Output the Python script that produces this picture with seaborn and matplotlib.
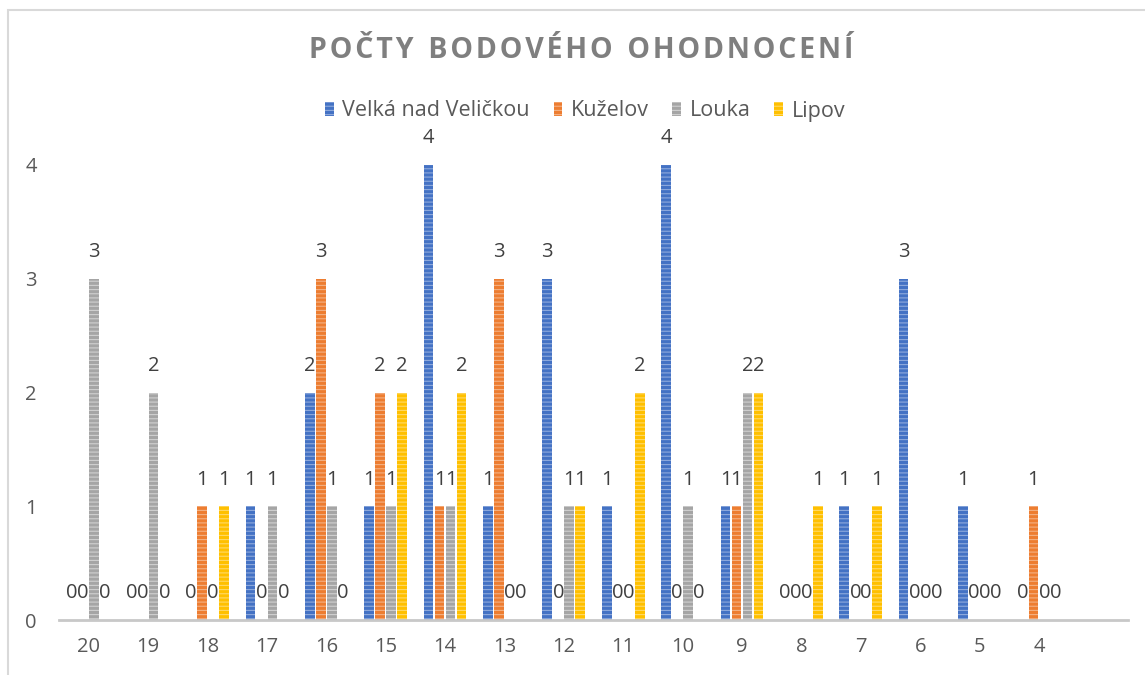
"""Počty bodového ohodnocení - clustered bar chart"""

import matplotlib.pyplot as plt
import matplotlib.patches as mpatches
import pandas as pd
import seaborn as sns

# data
body = ['20', '19', '18', '17', '16', '15', '14', '13', '12',
        '11', '10', '9', '8', '7', '6', '5', '4']
velka = [0, 0, 0, 1, 2, 1, 4, 1, 3, 1, 4, 1, 0, 1, 3, 1, 0]
kuzelov = [0, 0, 1, 0, 3, 2, 1, 3, 0, 0, 0, 1, 0, 0, 0, 0, 1]
louka = [3, 2, 0, 1, 1, 1, 1, 0, 1, 0, 1, 2, 0, 0, 0, 0, 0]
lipov = [0, 0, 1, 0, 0, 2, 2, 0, 1, 2, 0, 2, 1, 1, 0, 0, 0]
obce = ['Velká nad Veličkou', 'Kuželov', 'Louka', 'Lipov']
barvy = ['#4472C4', '#ED7D31', '#A5A5A5', '#FFC000']
pruhy = ['#8FAADC', '#F4B183', '#D0D0D0', '#FFD966']

rows = []
for obec, vals in zip(obce, [velka, kuzelov, louka, lipov]):
    for b, v in zip(body, vals):
        rows.append({'body': b, 'obec': obec, 'pocet': v})
df = pd.DataFrame(rows)

sns.set_style('white')
plt.rcParams['font.family'] = ['Open Sans', 'DejaVu Sans']
plt.rcParams['hatch.linewidth'] = 0.8

fig = plt.figure(figsize=(11.45, 6.75), dpi=100)
ax = fig.add_axes([59 / 1145, 1 - 620 / 675, 1069 / 1145, 455 / 675])

# empty last slot like in the original chart
order = body + [' ']
sns.barplot(data=df, x='body', y='pocet', hue='obec', order=order,
            hue_order=obce, palette=barvy, width=0.74, gap=0.12,
            ax=ax, legend=False, saturation=1)

for cont, pr in zip(ax.containers, pruhy):
    for p in cont:
        p.set_hatch('----')
        p.set_edgecolor(pr)
        p.set_linewidth(0)
    labels = ax.bar_label(cont, fmt='%d', padding=12, fontsize=14.5,
                          color='#404040')
    for t in labels:
        t.set_clip_on(False)

ax.set_ylim(0, 4)
ax.set_yticks([0, 1, 2, 3, 4])
ax.set_xlabel('')
ax.set_ylabel('')
ax.tick_params(axis='y', length=0, pad=16, labelsize=14.5, labelcolor='#595959')
ax.tick_params(axis='x', length=0, pad=12, labelsize=14.5, labelcolor='#595959')
for s in ['top', 'right', 'left']:
    ax.spines[s].set_visible(False)
ax.spines['bottom'].set_color('#C8C8C8')
ax.spines['bottom'].set_linewidth(2)

# legend
handles = [mpatches.Patch(facecolor=c, edgecolor=pr, hatch='----', linewidth=0, label=o)
           for c, pr, o in zip(barvy, pruhy, obce)]
fig.legend(handles=handles, loc='center', bbox_to_anchor=(0.511, 1 - 111 / 675),
           ncol=4, frameon=False, fontsize=15.5, handlelength=0.4, handleheight=0.6,
           handletextpad=0.4, columnspacing=1.1, labelcolor='#595959')

# title with letter spacing
hs = '\u200a'
title = '  '.join(hs.join(w) for w in ['POČTY', 'BODOVÉHO', 'OHODNOCENÍ'])
fig.text(0.508, 1 - 51 / 675, title, ha='center', va='center', fontsize=20.5,
         fontweight='bold', color='#7F7F7F')

# chart border
fig.patches.append(mpatches.Rectangle((8 / 1145, -0.1), 1.2, 1.1 - 10 / 675,
                                      transform=fig.transFigure, fill=False,
                                      edgecolor='#D9D9D9', linewidth=1.5))

fig.savefig('out.png', dpi=100)
